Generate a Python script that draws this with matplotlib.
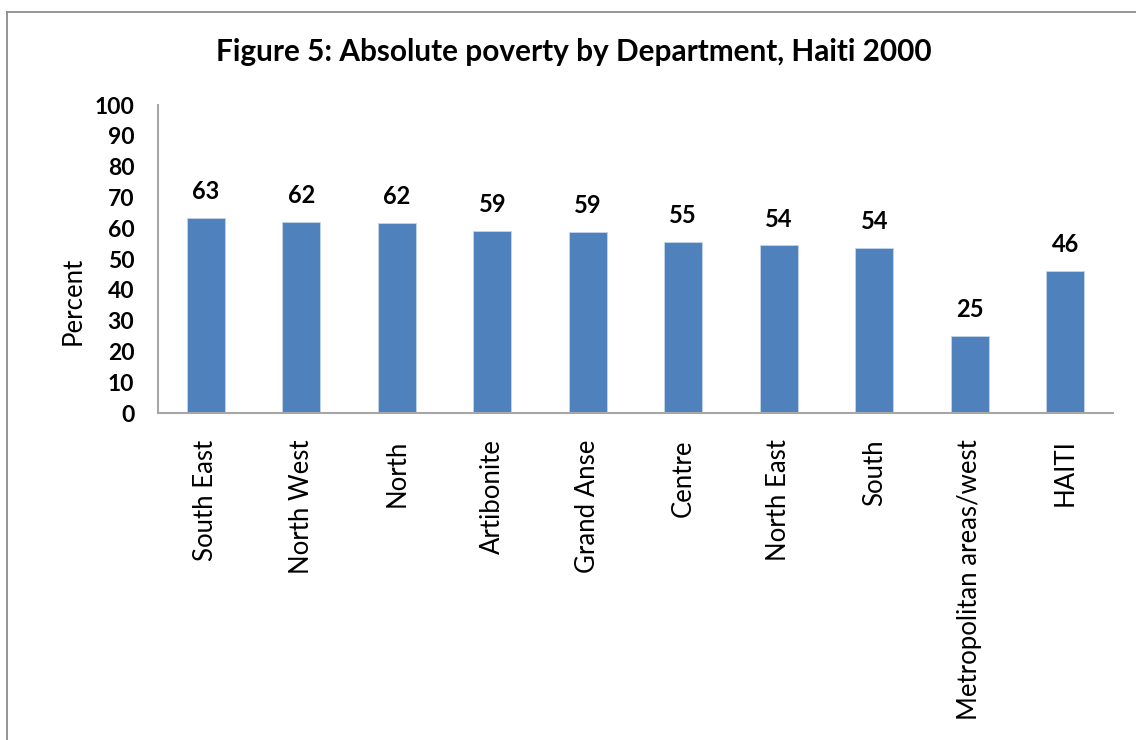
import matplotlib
matplotlib.use("Agg")
import matplotlib.pyplot as plt
from matplotlib.lines import Line2D

plt.rcParams['font.family'] = ['Lato', 'DejaVu Sans']

departments = ["South East", "North West", "North", "Artibonite", "Grand Anse",
               "Centre", "North East", "South", "Metropolitan areas/west", "HAITI"]
poverty_pct = [63.2, 61.9, 61.6, 59.0, 58.7, 55.4, 54.4, 53.7, 25.0, 46.2]
y_ticks = [0, 10, 20, 30, 40, 50, 60, 70, 80, 90, 100]

W, H = 1136, 740
fig = plt.figure(figsize=(W / 100, H / 100), dpi=100)
fig.patch.set_facecolor("white")

# outer frame (top and left edges of the chart area)
fig.add_artist(Line2D([7 / W, 1.0], [1 - 12 / H, 1 - 12 / H], transform=fig.transFigure,
                      color="#8c8c8c", lw=1.3))
fig.add_artist(Line2D([7 / W, 7 / W], [0.0, 1 - 12 / H], transform=fig.transFigure,
                      color="#8c8c8c", lw=1.3))

ax = fig.add_axes([158 / W, 1 - 413 / H, (1113 - 158) / W, (413 - 105) / H])
x = list(range(len(departments)))
bars = ax.bar(x, poverty_pct, width=0.4, color="#4F81BD", edgecolor="#c5d5ea", linewidth=0.6)

ax.set_xlim(-0.5, len(departments) - 0.5)
ax.set_ylim(0, 100)
ax.set_yticks(y_ticks)
ax.set_yticklabels([str(t) for t in y_ticks], fontsize=16.5, fontweight="bold")
ax.set_xticks(x)
ax.set_xticklabels(departments, rotation=90, fontsize=18.5, va="top", ha="center")
ax.tick_params(axis="both", length=0)
ax.tick_params(axis="x", pad=19)
ax.tick_params(axis="y", pad=17)
for s in ("top", "right"):
    ax.spines[s].set_visible(False)
for s in ("left", "bottom"):
    ax.spines[s].set_color("#a6a6a6")
    ax.spines[s].set_linewidth(1.5)

for xi, v in zip(x, poverty_pct):
    ax.annotate(f"{v:.0f}", xy=(xi, v), xytext=(0, 19), textcoords="offset points",
                ha="center", va="center", fontsize=17, fontweight="bold")

fig.text(574 / W, 1 - 52 / H, "Figure 5: Absolute poverty by Department, Haiti 2000",
         ha="center", va="center", fontsize=21.4, fontweight="bold")
fig.text(73 / W, 1 - 301 / H, "Percent", rotation=90, ha="center", va="center",
         fontsize=18.5)

fig.savefig("out.png", dpi=100, facecolor="white")
